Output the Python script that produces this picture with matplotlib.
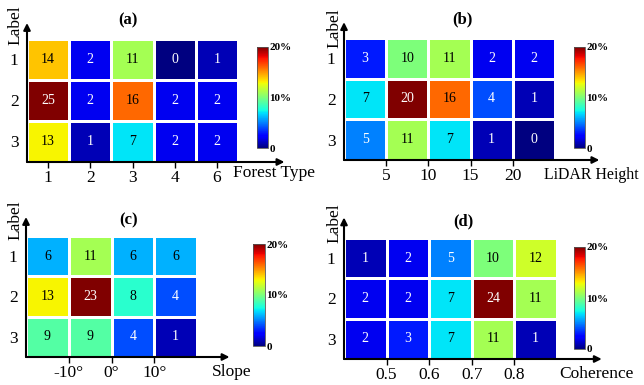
import numpy as np
import matplotlib
matplotlib.use("Agg")
from matplotlib import pyplot as plt

plt.rcParams["font.family"] = ["Liberation Serif", "DejaVu Serif"]

# values per panel, rows are Label 1..3
vals_a = [[14, 2, 11, 0, 1],
          [25, 2, 16, 2, 2],
          [13, 1, 7, 2, 2]]
xlab_a = ["1", "2", "3", "4", "6"]

vals_b = [[3, 10, 11, 2, 2],
          [7, 20, 16, 4, 1],
          [5, 11, 7, 1, 0]]
edges_b = [0, 5, 10, 15, 20, 25]
ticks_b = [5, 10, 15, 20]

vals_c = [[6, 11, 6, 6],
          [13, 23, 8, 4],
          [9, 9, 4, 1]]
edges_c = [-20, -10, 0, 10, 20]
ticks_c = [-10, 0, 10]

vals_d = [[1, 2, 5, 10, 12],
          [2, 2, 7, 24, 11],
          [2, 3, 7, 11, 1]]
edges_d = [0.4, 0.5, 0.6, 0.7, 0.8, 0.9]
ticks_d = [0.5, 0.6, 0.7, 0.8]

ylabels = ["1", "2", "3"]

W, H = 644, 385
fig = plt.figure(figsize=(W / 100, H / 100), dpi=100)


def px_axes(x0, y0, x1, y1):
    return fig.add_axes([x0 / W, 1 - y1 / H, (x1 - x0) / W, (y1 - y0) / H])


def panel(box, cbox, vals, xedges, xticks, xticklabels, title, xlabel,
          tip, title_pos, lab_pos, xl_pos, xl_size=12.5):
    ax = px_axes(*box)
    v = np.array(vals)
    mesh = ax.pcolormesh(xedges, [0, 1, 2, 3], v, cmap="jet", vmin=0, vmax=20,
                         edgecolors="white", linewidth=0.8)
    ax.set_xlim(xedges[0], xedges[-1])
    ax.set_ylim(3, 0)
    for s in ax.spines.values():
        s.set_visible(False)
    ax.set_xticks(xticks)
    ax.set_xticklabels(xticklabels, fontsize=12.5)
    ax.set_yticks([0.5, 1.5, 2.5])
    ax.set_yticklabels(ylabels, fontsize=12.5)
    ax.tick_params(axis="x", length=4, width=1, pad=1.5)
    ax.tick_params(axis="y", length=0, pad=6)
    xc = (np.array(xedges[:-1]) + np.array(xedges[1:])) / 2
    for i in range(v.shape[0]):
        for j in range(v.shape[1]):
            c = "white" if (v[i, j] <= 5 or v[i, j] >= 20) else "black"
            ax.text(xc[j], i + 0.5, str(v[i, j]), ha="center", va="center",
                    fontsize=10, color=c)
    # arrow axes
    ax.annotate("", xy=(0, tip[1]), xytext=(0, 0), xycoords="axes fraction",
                arrowprops=dict(arrowstyle="-|>", color="black", lw=1.5,
                                shrinkA=0, shrinkB=0, mutation_scale=10))
    ax.annotate("", xy=(tip[0], 0), xytext=(0, 0), xycoords="axes fraction",
                arrowprops=dict(arrowstyle="-|>", color="black", lw=1.5,
                                shrinkA=0, shrinkB=0, mutation_scale=10))
    ax.text(title_pos[0], title_pos[1], title, transform=ax.transAxes,
            ha="center", va="center", fontsize=12, fontweight="bold")
    ax.text(lab_pos[0], lab_pos[1], "Label", transform=ax.transAxes,
            ha="center", va="center", rotation=90, fontsize=12.5)
    ax.text(xl_pos[0], xl_pos[1], xlabel, transform=ax.transAxes,
            ha="left", va="center", fontsize=xl_size)

    cax = px_axes(*cbox)
    cb = fig.colorbar(mesh, cax=cax, ticks=[0, 10, 20])
    cb.ax.set_yticklabels(["0", "10%", "20%"], fontsize=8, fontweight="bold")
    cb.ax.tick_params(length=0, pad=1)
    cb.outline.set_linewidth(0.6)
    cb.outline.set_edgecolor("#555555")


panel((27, 39, 238, 162), (257, 47, 268, 148), vals_a,
      np.arange(6) - 0.5, np.arange(5), xlab_a, "(a)", "Forest Type",
      (1.22, 1.13), (0.48, 1.155), (-0.057, 1.11), (0.976, -0.09))
panel((344, 38, 555, 160), (574, 47, 585, 148), vals_b,
      edges_b, ticks_b, [str(t) for t in ticks_b], "(b)", "LiDAR Height",
      (1.21, 1.13), (0.56, 1.15), (-0.047, 1.08), (0.948, -0.12), 11.4)
panel((26, 236, 197, 357), (253, 244, 265, 346), vals_c,
      edges_c, ticks_c, [f"{t}\u00b0" for t in ticks_c], "(c)", "Slope",
      (1.19, 1.157), (0.6, 1.13), (-0.064, 1.13), (1.088, -0.124))
panel((344, 238, 557, 359), (574, 247, 585, 349), vals_d,
      edges_d, ticks_d, [f"{t:.1f}" for t in ticks_d], "(d)", "Coherence",
      (1.21, 1.17), (0.56, 1.14), (-0.047, 1.12), (1.01, -0.124))

fig.savefig("out.png", dpi=100)
